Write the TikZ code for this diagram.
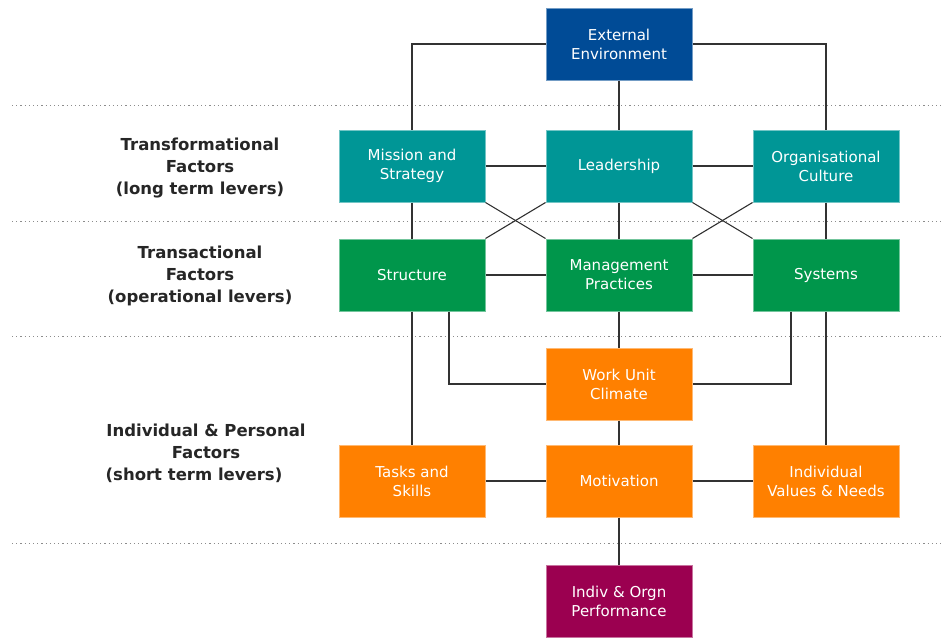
\documentclass[tikz,border=0pt]{standalone}
\usepackage{fontspec}
\setmainfont{DejaVu Sans}
\definecolor{envblue}{RGB}{0, 75, 150}
\definecolor{transteal}{RGB}{0, 150, 150}
\definecolor{opgreen}{RGB}{0, 150, 75}
\definecolor{leverorange}{RGB}{255, 128, 0}
\definecolor{perfmaroon}{RGB}{155, 0, 80}
\definecolor{linkgrey}{RGB}{50, 50, 50}
\usetikzlibrary{positioning, calc}

\begin{document}
\begin{tikzpicture}[x=1pt, y=-1pt,
            factor/.style={minimum width=146pt, minimum height=72pt, inner sep=2pt,
                align=center, text=white, line width=1pt,
                font=\fontsize{15}{19}\selectfont},
            envbox/.style={factor, fill=envblue, draw=envblue!55!white},
            tealbox/.style={factor, fill=transteal, draw=transteal!55!white},
            greenbox/.style={factor, fill=opgreen, draw=opgreen!55!white},
            orangebox/.style={factor, fill=leverorange, draw=leverorange!55!white},
            perfbox/.style={factor, fill=perfmaroon, draw=perfmaroon!55!white},
            levellabel/.style={align=center, font=\fontsize{16.5}{22}\selectfont\bfseries, text=black!85},
            link/.style={draw=linkgrey, line width=1.1pt},
            band/.style={draw=black!45, line width=0.8pt, dash pattern=on 1.2pt off 3pt}]

            \useasboundingbox (0,0) rectangle (944,637);

            % Bands
            \foreach \y in {105, 221, 336, 543}
                \draw[band] (12,\y) -- (944,\y);

            % Boxes
            \node[envbox] (env) at (619,44) {External\\Environment};
            \node[tealbox] (lead) at (619,166) {Leadership};
            \node[tealbox, left=60pt of lead] (mis) {Mission and\\Strategy};
            \node[tealbox, right=60pt of lead] (cult) {Organisational\\Culture};
            \node[greenbox] (mgmt) at (619,275) {Management\\Practices};
            \node[greenbox, left=60pt of mgmt] (str) {Structure};
            \node[greenbox, right=60pt of mgmt] (sys) {Systems};
            \node[orangebox] (wuc) at (619,384) {Work Unit\\Climate};
            \node[orangebox] (mot) at (619,481) {Motivation};
            \node[orangebox, left=60pt of mot] (task) {Tasks and\\Skills};
            \node[orangebox, right=60pt of mot] (ivn) {Individual\\Values \& Needs};
            \node[perfbox] (perf) at (619,601) {Indiv \& Orgn\\Performance};

            % Labels
            \node[levellabel] (lbltrf) at (200,168) {Transformational\\Factors\\(long term levers)};
            \node[levellabel] (lbltrc) at (200,276) {Transactional\\Factors\\(operational levers)};
            \node[levellabel] (lblind) at (206,453) {Individual \& Personal\\Factors\\(short term levers)\hspace*{24pt}};

            % Links
            \draw[link] (env.west) -| (mis.north);
            \draw[link] (env.east) -| (cult.north);
            \draw[link] (env) -- (lead);
            \draw[link] (mis) -- (lead);
            \draw[link] (lead) -- (cult);
            \draw[link] (mis) -- (str);
            \draw[link] (lead) -- (mgmt);
            \draw[link] (cult) -- (sys);
            \draw[link] (mis.south east) -- (mgmt.north west);
            \draw[link] (lead.south west) -- (str.north east);
            \draw[link] (lead.south east) -- (sys.north west);
            \draw[link] (cult.south west) -- (mgmt.north east);
            \draw[link] (str) -- (mgmt);
            \draw[link] (mgmt) -- (sys);
            \draw[link] ([xshift=37pt]str.south) |- (wuc.west);
            \draw[link] ([xshift=-35pt]sys.south) |- (wuc.east);
            \draw[link] (mgmt) -- (wuc);
            \draw[link] (str) -- (task);
            \draw[link] (sys) -- (ivn);
            \draw[link] (wuc) -- (mot);
            \draw[link] (task) -- (mot);
            \draw[link] (mot) -- (ivn);
            \draw[link] (mot) -- (perf);
        \end{tikzpicture}
\end{document}
